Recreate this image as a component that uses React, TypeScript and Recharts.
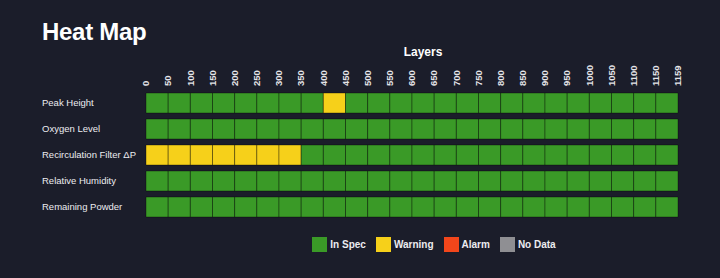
import { BarChart, Bar, XAxis, YAxis, Cell, Legend } from "recharts";

const rowNames = ["Peak Height", "Oxygen Level", "Recirculation Filter ΔP", "Relative Humidity", "Remaining Powder"];

// one status code per 50-layer block: G = in spec, Y = warning, R = alarm, N = no data
const peakHeight = "GGGGGGGGYGGGGGGGGGGGGGGG".split("");
const oxygenLevel = "GGGGGGGGGGGGGGGGGGGGGGGG".split("");
const filterDeltaP = "YYYYYYYGGGGGGGGGGGGGGGGG".split("");
const humidity = "GGGGGGGGGGGGGGGGGGGGGGGG".split("");
const powder = "GGGGGGGGGGGGGGGGGGGGGGGG".split("");
const rowStatus = [peakHeight, oxygenLevel, filterDeltaP, humidity, powder];

const layerTicks = ["0", "50", "100", "150", "200", "250", "300", "350", "400", "450", "500", "550", "600", "650", "700", "750", "800", "850", "900", "950", "1000", "1050", "1100", "1150", "1159"];

const legendKeys = ["G", "Y", "R", "N"];
const legendNames = ["In Spec", "Warning", "Alarm", "No Data"];

const colors: Record<string, string> = {
  G: "#3a9a27",
  Y: "#f6d01a",
  R: "#f2461b",
  N: "#8f8f93",
};

const BG = "#1b1d2a";
const FONT = "'Liberation Sans', Arial, sans-serif";
const cellCount = layerTicks.length - 1;

const data = rowNames.map((name) => {
  const row: Record<string, string | number> = { name };
  for (let i = 0; i < cellCount; i++) row[`c${i}`] = 1;
  return row;
});

const LayerTick = (props: any) => {
  const { x, y, payload } = props;
  return (
    <text
      transform={`translate(${x},${y}) rotate(-90)`}
      textAnchor="start"
      dy="0.35em"
      fontSize={9.5}
      fontWeight={600}
      fill="#e4e4e8"
      fontFamily={FONT}
    >
      {layerTicks[payload.value]}
    </text>
  );
};

const RowTick = (props: any) => {
  const { y, payload } = props;
  return (
    <text x={42} y={y} dy="0.35em" textAnchor="start" fontSize={9.5} fill="#ececf0" fontFamily={FONT}>
      {payload.value}
    </text>
  );
};

const LegendBox = () => (
  <div
    style={{
      display: "flex",
      justifyContent: "center",
      alignItems: "center",
      paddingTop: 17,
      paddingLeft: 158,
      fontFamily: FONT,
      fontSize: 10,
      fontWeight: 600,
      color: "#ececf0",
    }}
  >
    {legendKeys.map((k, i) => (
      <div key={k} style={{ display: "flex", alignItems: "center", marginRight: 10 }}>
        <span style={{ width: 15, height: 15, background: colors[k], display: "inline-block", marginRight: 3 }} />
        <span>{legendNames[i]}</span>
      </div>
    ))}
  </div>
);

export default function App() {
  return (
    <div style={{ position: "absolute", left: 0, top: 0, width: 720, height: 278, background: BG, overflow: "hidden" }}>
      <div
        style={{
          position: "absolute",
          left: 42,
          top: 18,
          fontFamily: FONT,
          fontSize: 24,
          fontWeight: 700,
          color: "#ffffff",
          letterSpacing: -0.3,
        }}
      >
        Heat Map
      </div>
      <div
        style={{
          position: "absolute",
          left: 373,
          width: 100,
          top: 45,
          textAlign: "center",
          fontFamily: FONT,
          fontSize: 12,
          fontWeight: 700,
          color: "#ffffff",
        }}
      >
        Layers
      </div>
      <BarChart
        width={720}
        height={278}
        data={data}
        layout="vertical"
        barSize={20}
        margin={{ top: 40, right: 42, bottom: 20, left: 42 }}
      >
        <XAxis
          type="number"
          orientation="top"
          domain={[0, cellCount]}
          ticks={layerTicks.map((_, i) => i)}
          interval={0}
          height={50}
          axisLine={false}
          tickLine={false}
          tickSize={0}
          tickMargin={4}
          tick={<LayerTick />}
        />
        <YAxis
          type="category"
          dataKey="name"
          width={104}
          axisLine={false}
          tickLine={false}
          tick={<RowTick />}
        />
        <Legend verticalAlign="bottom" height={38} wrapperStyle={{ left: 0, width: 720 }} content={<LegendBox />} />
        {Array.from({ length: cellCount }, (_, i) => (
          <Bar key={i} dataKey={`c${i}`} stackId="a" isAnimationActive={false} stroke="rgba(0,0,0,0.35)" strokeWidth={1}>
            {rowStatus.map((s, r) => (
              <Cell key={r} fill={colors[s[i]]} />
            ))}
          </Bar>
        ))}
      </BarChart>
    </div>
  );
}
